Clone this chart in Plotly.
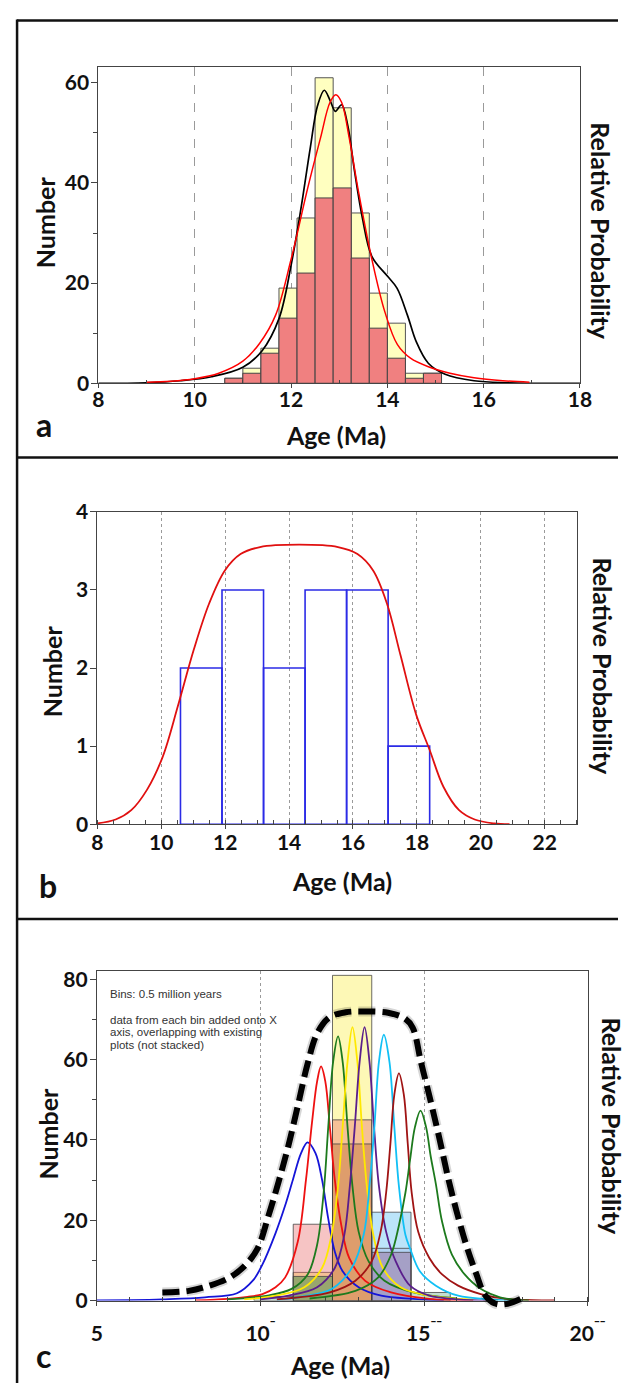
import plotly.graph_objects as go

# ---------------- data ----------------
# Panel a: detrital ages, full population vs. subset (bin edges in Ma)
a_edges = [10.625, 11.0, 11.375, 11.75, 12.125, 12.5, 12.875, 13.25, 13.625, 14.0, 14.375, 14.75, 15.125]
a_all_counts = [1, 3, 7, 19, 33, 61, 55, 34, 18, 12, 2, 2]
a_subset_counts = [1, 2, 6, 13, 22, 37, 39, 25, 11, 5, 1, 2]
a_kde_x = [8.0, 9.0, 9.7, 10.35, 11.0, 11.4, 11.75, 12.0, 12.2, 12.4, 12.55, 12.69, 12.81, 12.92, 13.05,
           13.18, 13.31, 13.48, 13.68, 14.0, 14.2, 14.42, 14.6, 14.85, 15.2, 15.8, 16.5, 18.0]
a_kde_y = [0, 0.1, 0.5, 1.3, 3.2, 6.5, 12.9, 23.5, 34.5, 47.0, 55.4, 58.5, 56.5, 54.3, 55.6,
           51.4, 42.9, 33.1, 25.3, 21.4, 19.0, 13.5, 8.3, 4.0, 1.8, 0.5, 0.1, 0]
a_pdf_x = [9.0, 9.5, 10.0, 10.5, 11.0, 11.35, 11.68, 12.0, 12.35, 12.61, 12.81, 12.93, 13.05, 13.21,
           13.41, 13.68, 13.95, 14.21, 14.48, 14.88, 15.3, 15.8, 16.4, 16.95]
a_pdf_y = [0.2, 0.4, 0.9, 2.0, 4.4, 8.0, 13.6, 24.7, 39.1, 48.9, 56.1, 57.6, 56.1, 48.9,
           37.8, 24.7, 14.2, 7.7, 5.0, 3.2, 2.0, 1.1, 0.5, 0.2]

# Panel b: small sample
b_edges = [10.6, 11.9, 13.2, 14.5, 15.8, 17.1, 18.4]
b_counts = [2, 3, 2, 3, 3, 1]
b_pdf_x = [8.0, 8.57, 9.06, 9.55, 10.04, 10.53, 11.02, 11.5, 11.99, 12.48, 13.09, 14.31, 15.53, 16.14,
           16.63, 17.06, 17.49, 17.98, 18.4, 18.83, 19.32, 19.81, 20.42, 20.9]
b_pdf_y = [0.01, 0.06, 0.18, 0.44, 0.86, 1.53, 2.24, 2.83, 3.25, 3.46, 3.55, 3.58, 3.55, 3.46,
           3.25, 2.83, 2.16, 1.4, 0.95, 0.48, 0.18, 0.06, 0.01, 0.0]

# Panel c: per-bin histograms drawn over one another (not stacked)
c_edges = [9.8, 11.0, 12.2, 13.4, 14.6, 15.8]
c_bar_yellow = [None, 7, 81, None, None]
c_bar_pink = [None, 19, 45, None, None]
c_bar_orange = [None, None, 39, None, None]
c_bar_green = [None, 6, None, None, None]
c_bar_sky = [None, None, None, 22, None]
c_bar_lavender = [None, None, None, 13, None]
c_bar_purple = [None, None, None, 12, None]
c_bar_sage = [1, None, None, None, 2]

c_blue_x = [5.0, 6.0, 7.0, 8.3, 9.28, 9.77, 10.06, 10.46, 10.75, 10.99, 11.24, 11.44, 11.68, 11.88, 12.07,
            12.27, 12.51, 13.0, 13.69, 14.67, 15.6]
c_blue_y = [0, 0.1, 0.3, 0.8, 1.8, 5.0, 9.0, 16.8, 23.6, 30.1, 36.7, 39.4, 36.7, 30.1, 20.4,
            12.2, 7.3, 3.3, 1.2, 0.4, 0]
c_red_x = [8.0, 9.0, 9.6, 10.06, 10.46, 10.75, 11.14, 11.39, 11.58, 11.73, 11.85, 11.98, 12.12, 12.27,
           12.47, 12.71, 13.2, 13.99, 15.16, 16.5]
c_red_y = [0, 0.4, 0.9, 1.6, 3.3, 5.7, 14.7, 30.1, 44.8, 54.6, 58.3, 54.6, 43.2, 30.1,
           18.7, 10.6, 4.9, 2.0, 0.4, 0]
c_green_x = [9.0, 10.26, 10.95, 11.44, 11.73, 11.93, 12.07, 12.22, 12.37, 12.51, 12.66, 12.81, 13.0,
             13.3, 13.79, 14.67, 16.0]
c_green_y = [0.3, 1.3, 2.9, 6.5, 13.9, 26.9, 43.2, 59.5, 65.8, 59.5, 43.2, 28.5, 17.1,
             9.8, 4.9, 2.0, 0.5]
c_yellow_x = [9.5, 10.46, 11.34, 11.88, 12.17, 12.37, 12.51, 12.66, 12.81, 12.96, 13.1, 13.25, 13.45,
              13.74, 14.28, 15.16, 16.5]
c_yellow_y = [0.3, 1.2, 3.3, 8.1, 16.3, 28.5, 43.2, 59.5, 68.1, 59.5, 43.2, 28.5, 16.3,
              8.1, 3.3, 1.2, 0.2]
c_purple_x = [10.0, 10.85, 11.73, 12.27, 12.56, 12.73, 12.88, 13.03, 13.18, 13.33, 13.47, 13.62, 13.84,
              14.13, 14.57, 15.16, 16.04, 17.0]
c_purple_y = [0.3, 1.2, 3.3, 8.1, 16.3, 28.5, 43.2, 59.5, 68.1, 59.5, 43.2, 28.5, 17.1,
              9.8, 3.7, 1.2, 0.3, 0]
c_sky_x = [10.5, 11.3, 12.2, 12.78, 13.15, 13.33, 13.48, 13.62, 13.77, 13.94, 14.09, 14.23, 14.43,
           14.57, 14.87, 15.36, 16.04, 17.0, 18.0]
c_sky_y = [0.2, 1.0, 3.0, 8.0, 16.3, 28.5, 43.2, 59.5, 66.2, 59.5, 43.2, 28.5, 16.3,
           13.0, 7.3, 3.7, 1.2, 0.3, 0]
c_darkred_x = [10.5, 12.12, 12.9, 13.4, 13.67, 13.84, 13.97, 14.09, 14.23, 14.38, 14.5, 14.62, 14.82,
               15.16, 15.55, 16.04, 16.73, 17.51, 18.3, 19.0]
c_darkred_y = [0.3, 2.0, 4.9, 9.8, 17.1, 26.9, 39.1, 51.3, 56.6, 51.3, 39.1, 26.9, 17.1,
               10.6, 6.5, 3.7, 1.6, 0.4, 0.1, 0]
c_darkgreen_x = [11.5, 12.9, 13.59, 13.99, 14.23, 14.43, 14.57, 14.72, 14.89, 15.06, 15.2, 15.36, 15.55,
                 15.85, 16.24, 16.73, 17.32, 17.8, 18.2]
c_darkgreen_y = [0.5, 2.4, 5.7, 11.4, 18.7, 26.9, 35.0, 43.2, 47.3, 43.2, 36.0, 29.0, 19.6,
                 11.4, 6.5, 2.9, 0.8, 0.2, 0]
c_env_x = [7.0, 7.81, 8.44, 9.05, 9.5, 9.9, 10.24, 10.55, 10.85, 11.14, 11.44, 11.73, 12.1, 12.6, 13.2,
           13.9, 14.4, 14.65, 14.9, 15.16, 15.45, 15.75, 16.0, 16.3, 16.6, 16.85, 17.15, 17.5, 17.95]
c_env_y = [2.0, 2.4, 3.7, 5.7, 8.5, 12.8, 21.0, 29.5, 38.5, 48.5, 59.0, 66.5, 70.5, 71.8, 72.0,
           71.7, 70.3, 68.0, 59.5, 51.0, 41.0, 30.0, 22.0, 13.5, 6.5, 1.5, -0.7, -0.9, 0.4]
c_note_title = "Bins: 0.5 million years"
c_note_lines = ["data from each bin added onto X", "axis, overlapping with existing", "plots (not stacked)"]

# ---------------- page geometry (pixels) ----------------
W, H = 636, 1394


def fx(p):
    return p / W


def fy(p):
    return 1 - p / H


def centers(edges):
    return [(lo + hi) / 2 for lo, hi in zip(edges[:-1], edges[1:])]


def widths(edges):
    return [hi - lo for lo, hi in zip(edges[:-1], edges[1:])]


FONT = "Lato"
TICKFONT = dict(family=FONT, size=21, color="#111", weight="bold")
FRAME = "#444"

fig = go.Figure()

# ---------- panel a ----------
fig.add_bar(x=centers(a_edges), y=a_all_counts, width=widths(a_edges),
            marker=dict(color="#ffffc0", line=dict(color="#555", width=1)), xaxis="x", yaxis="y")
fig.add_bar(x=centers(a_edges), y=a_subset_counts, width=widths(a_edges),
            marker=dict(color="#f08080", line=dict(color="#444", width=1)), xaxis="x", yaxis="y")
fig.add_scatter(x=a_kde_x, y=a_kde_y, mode="lines", line=dict(color="#000", width=1.7, shape="spline"),
                xaxis="x", yaxis="y")
fig.add_scatter(x=a_pdf_x, y=a_pdf_y, mode="lines", line=dict(color="#ff0000", width=1.5, shape="spline"),
                xaxis="x", yaxis="y")

# ---------- panel b ----------
fig.add_bar(x=centers(b_edges), y=b_counts, width=widths(b_edges),
            marker=dict(color="rgba(0,0,0,0)", line=dict(color="#2b2be6", width=1.6)), xaxis="x2", yaxis="y2")
fig.add_scatter(x=b_pdf_x, y=b_pdf_y, mode="lines", line=dict(color="#e01010", width=1.8, shape="spline"),
                xaxis="x2", yaxis="y2")

# ---------- panel c ----------
bar_line = dict(color="rgba(60,60,60,0.75)", width=1)
for vals, col in [
    (c_bar_yellow, "rgba(250,238,80,0.42)"),
    (c_bar_pink, "rgba(232,100,100,0.38)"),
    (c_bar_orange, "rgba(195,115,55,0.45)"),
    (c_bar_green, "rgba(60,140,70,0.5)"),
    (c_bar_sky, "rgba(95,190,240,0.42)"),
    (c_bar_lavender, "rgba(120,110,200,0.15)"),
    (c_bar_purple, "rgba(140,65,115,0.34)"),
    (c_bar_sage, "rgba(150,195,170,0.55)"),
]:
    fig.add_bar(x=centers(c_edges), y=vals, width=widths(c_edges),
                marker=dict(color=col, line=bar_line), xaxis="x3", yaxis="y3")

for xs, ys, col in [
    (c_blue_x, c_blue_y, "#1515d8"),
    (c_red_x, c_red_y, "#ee1111"),
    (c_green_x, c_green_y, "#1d7a1d"),
    (c_yellow_x, c_yellow_y, "#ffe800"),
    (c_purple_x, c_purple_y, "#5a1e8c"),
    (c_sky_x, c_sky_y, "#12c0f5"),
    (c_darkred_x, c_darkred_y, "#a01414"),
    (c_darkgreen_x, c_darkgreen_y, "#1d7a1d"),
]:
    fig.add_scatter(x=xs, y=ys, mode="lines", line=dict(color=col, width=1.8, shape="spline"),
                    xaxis="x3", yaxis="y3")

# envelope drawn on an overlay subplot whose clip area reaches a little below the axis
fig.add_scatter(x=c_env_x, y=c_env_y, mode="lines",
                line=dict(color="rgba(0,0,0,0.16)", width=10, shape="spline", dash="17px,7px"),
                xaxis="x4", yaxis="y4")
fig.add_scatter(x=c_env_x, y=c_env_y, mode="lines",
                line=dict(color="#000", width=6, shape="spline", dash="17px,7px"),
                xaxis="x4", yaxis="y4")

# ---------- axes ----------
A = dict(l=96, r=596.5, t=54, b=376, ymax=63.14)
B = dict(l=95, r=593, t=507, b=825, ymax=4)
C = dict(l=94.5, r=604.5, t=974, b=1310, ymax=82.2)
C_EXTRA = 9  # px of envelope allowed below the x axis


def xax(p, rng, vals, anchor, grid_dash, minor, standoff=0, ticktext=None):
    d = dict(domain=[fx(p["l"]), fx(p["r"])], range=rng, anchor=anchor,
             showline=True, mirror=True, linecolor=FRAME, linewidth=1, zeroline=False,
             tickmode="array", tickvals=vals, ticks="outside", ticklen=4, tickcolor=FRAME,
             tickfont=TICKFONT, showgrid=True, gridcolor="#9a9a9a", gridwidth=1, griddash=grid_dash,
             minor=minor, ticklabelstandoff=standoff)
    if ticktext is not None:
        d["ticktext"] = ticktext
    return d


def yax(p, vals, anchor, minor=None):
    d = dict(domain=[fy(p["b"]), fy(p["t"])], range=[0, p["ymax"]], anchor=anchor,
             showline=True, mirror=True, linecolor=FRAME, linewidth=1, zeroline=False,
             tickmode="array", tickvals=vals, ticks="outside", ticklen=6, tickcolor=FRAME,
             tickfont=TICKFONT, showgrid=False, ticklabelstandoff=-2)
    if minor:
        d["minor"] = minor
    return d


c_px_per_unit = (C["b"] - C["t"]) / C["ymax"]

fig.update_layout(
    width=W, height=H, margin=dict(l=0, r=0, t=0, b=0),
    paper_bgcolor="white", plot_bgcolor="rgba(0,0,0,0)",
    barmode="overlay", showlegend=False,
    xaxis=xax(A, [8, 18], [8, 10, 12, 14, 16, 18], "y", "dash",
              dict(tickvals=[9, 11, 13, 15, 17], ticks="inside", ticklen=3, tickcolor=FRAME, showgrid=False),
              standoff=-6),
    yaxis=yax(A, [0, 20, 40, 60], "x",
              dict(tickvals=[10, 30, 50], ticks="outside", ticklen=4, tickcolor=FRAME, showgrid=False)),
    xaxis2=xax(B, [8, 23], [8, 10, 12, 14, 16, 18, 20, 22], "y2", "dot",
               dict(dtick=0.5, tick0=8, ticks="inside", ticklen=4, tickcolor=FRAME, showgrid=False),
               standoff=-4),
    yaxis2=yax(B, [0, 1, 2, 3, 4], "x2"),
    xaxis3=xax(C, [5, 20], [5, 10, 15, 20], "y3", "dot",
               dict(dtick=1, tick0=5, ticks="inside", ticklen=4, tickcolor=FRAME, showgrid=False),
               standoff=10, ticktext=["5", "10<sup>ˉ</sup>", "15<sup>ˉˉ</sup>", "20<sup>ˉˉ</sup>"]),
    yaxis3=yax(C, [0, 20, 40, 60, 80], "x3",
               dict(tickvals=[10, 30, 50, 70], ticks="outside", ticklen=4, tickcolor=FRAME, showgrid=False)),
    xaxis4=dict(domain=[fx(C["l"]), fx(C["r"])], range=[5, 20], anchor="y4", visible=False),
    yaxis4=dict(domain=[fy(C["b"] + C_EXTRA), fy(C["t"])],
                range=[-C_EXTRA / c_px_per_unit, C["ymax"]], anchor="x4", visible=False),
)

# ---------- text ----------
ann = []


def label(text, x, y, size, angle=0, family=FONT, bold=True, color="#111", xanchor="center"):
    ann.append(dict(text=text, x=fx(x), y=fy(y), xref="paper", yref="paper", showarrow=False,
                    xanchor=xanchor, yanchor="middle", textangle=angle,
                    font=dict(family=family, size=size, color=color, weight="bold" if bold else "normal")))


for age_xy, num_xy, rp_xy, tag, tag_xy in [
    ((343, 429), (40.5, 212), (618, 221), "a", (39.5, 418)),
    ((349, 883), (48, 669), (620, 664), "b", (44, 887)),
    ((347, 1376), (43.6, 1140), (630, 1133), "c", (39, 1366)),
]:
    label("Age (Ma)", *age_xy, 25)
    label("Number", *num_xy, 25, angle=-90)
    label("Relative Probability", *rp_xy, 25, angle=90)
    label(tag, *tag_xy, 32)

NOTE_FONT = "Liberation Sans Narrow, Liberation Sans, Arial"
label(c_note_title, 106, 998, 11.5, family=NOTE_FONT, bold=False, color="#333", xanchor="left")
for i, line in enumerate(c_note_lines):
    label(line, 106, 1024 + 12.8 * i, 11.5, family=NOTE_FONT, bold=False, color="#333", xanchor="left")

fig.update_layout(annotations=ann)

# panel frame rules
rule = dict(color="#111", width=2.5)
shapes = [
    dict(type="line", xref="paper", yref="paper", x0=fx(11.5), x1=1, y0=fy(6.5), y1=fy(6.5), line=rule),
    dict(type="line", xref="paper", yref="paper", x0=fx(11.5), x1=1, y0=fy(451.5), y1=fy(451.5), line=rule),
    dict(type="line", xref="paper", yref="paper", x0=fx(11.5), x1=1, y0=fy(921.5), y1=fy(921.5), line=rule),
    dict(type="line", xref="paper", yref="paper", x0=fx(11.5), x1=fx(11.5), y0=fy(5.5), y1=0, line=rule),
]
fig.update_layout(shapes=shapes)

fig.write_html("out.html")
